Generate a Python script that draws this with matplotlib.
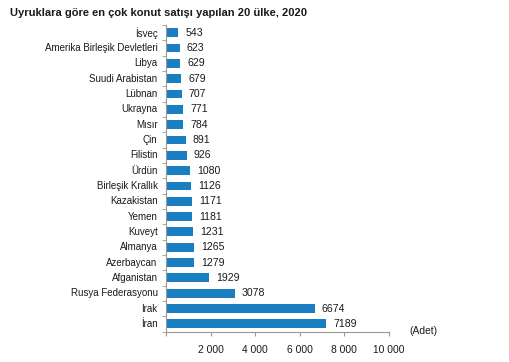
import matplotlib.pyplot as plt
import numpy as np

plt.rcParams['font.family'] = ['Liberation Sans', 'DejaVu Sans']

# Veri (yukarıdan aşağıya)
ulkeler = ['İsveç', 'Amerika Birleşik Devletleri', 'Libya', 'Suudi Arabistan', 'Lübnan',
           'Ukrayna', 'Mısır', 'Çin', 'Filistin', 'Ürdün', 'Birleşik Krallık', 'Kazakistan',
           'Yemen', 'Kuveyt', 'Almanya', 'Azerbaycan', 'Afganistan', 'Rusya Federasyonu',
           'Irak', 'İran']
satis = [543, 623, 629, 679, 707, 771, 784, 891, 926, 1080, 1126, 1171,
         1181, 1231, 1265, 1279, 1929, 3078, 6674, 7189]
xticks = [0, 2000, 4000, 6000, 8000, 10000]
xtick_labels = ['', '2 000', '4 000', '6 000', '8 000', '10 000']

fig = plt.figure(figsize=(5.09, 3.62), dpi=100)
ax = fig.add_axes([0.326, 0.084, 0.438, 0.847])

y = np.arange(len(ulkeler))
ax.barh(y, satis, height=0.58, color='#1a7fc1')
for yi, v in zip(y, satis):
    ax.text(v + 320, yi, str(v), va='center', ha='left', fontsize=7.6, color='#1a1a1a')

ax.set_ylim(len(ulkeler) - 0.5, -0.5)
ax.set_xlim(0, 10000)
ax.set_yticks(y)
ax.set_yticklabels(ulkeler, fontsize=7, color='#1a1a1a', va='center')
ax.set_yticks(np.arange(-0.5, len(ulkeler), 1), minor=True)
ax.tick_params(axis='y', which='major', length=0, pad=6)
ax.tick_params(axis='y', which='minor', length=3, color='#999999')
ax.set_xticks(xticks)
ax.set_xticklabels(xtick_labels, fontsize=7.4, color='#1a1a1a')
ax.tick_params(axis='x', length=3, color='#999999', pad=7)

for s in ['top', 'right']:
    ax.spines[s].set_visible(False)
for s in ['left', 'bottom']:
    ax.spines[s].set_color('#999999')
    ax.spines[s].set_linewidth(0.8)

fig.text(0.02, 0.965, 'Uyruklara göre en çok konut satışı yapılan 20 ülke, 2020',
         fontsize=8, fontweight='bold', va='center', ha='left', color='#1a1a1a')
fig.text(0.805, 0.087, '(Adet)', fontsize=7.4, va='center', ha='left', color='#1a1a1a')

fig.savefig('out.png', dpi=100)
